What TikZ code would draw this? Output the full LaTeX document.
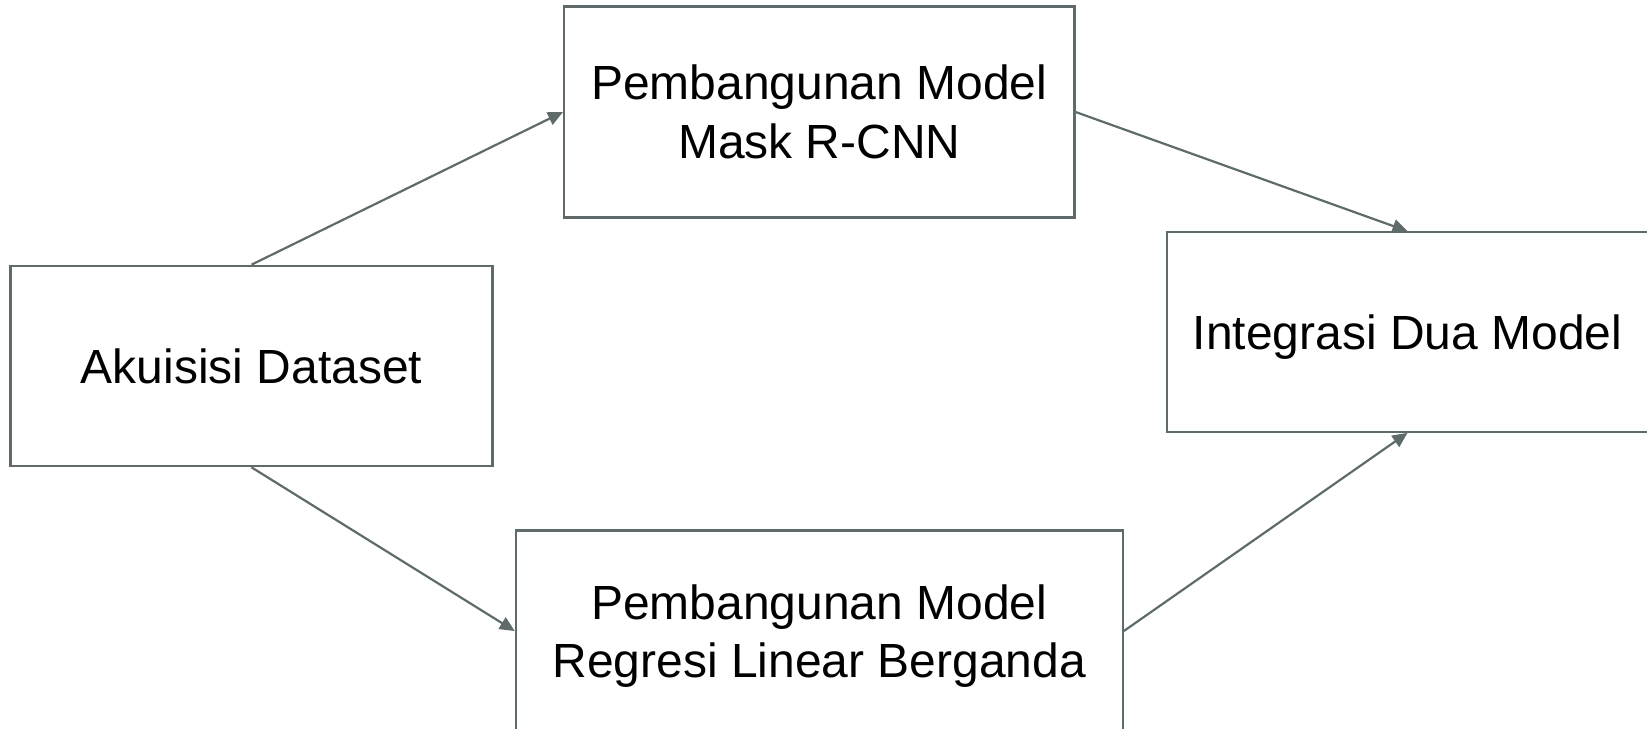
\documentclass[tikz,border=0pt]{standalone}
\usepackage{fontspec}
\setmainfont{Liberation Sans}
\usetikzlibrary{arrows.meta}
\definecolor{edgegray}{RGB}{95,107,107}
% a line whose descenders do not count when the box is centred
\newcommand{\nodepth}[1]{\raisebox{0pt}[\height][0pt]{#1}}
\tikzset{
  stagebox/.style={draw=edgegray, line width=1.25pt, fill=white, align=center,
    inner sep=0pt, font=\fontsize{27.3pt}{33.2pt}\selectfont},
  flow/.style={draw=edgegray, line width=1.25pt,
    -{Triangle[length=0.3cm,width=0.27cm]}}
}
\begin{document}
\begin{tikzpicture}[x=0.02cm, y=-0.02cm]
  \useasboundingbox (0,0) rectangle (1647,728);
  \clip (0,0) rectangle (1647,728);

  \node[stagebox, minimum width=9.64cm, minimum height=4.01cm] (akuisisi)
    at (251.5,366) {Akuisisi Dataset};
  \node[stagebox, minimum width=10.21cm, minimum height=4.22cm] (maskrcnn)
    at (819.3,112) {Pembangunan Model\\Mask R-CNN};
  \node[stagebox, minimum width=9.62cm, minimum height=3.99cm] (integrasi)
    at (1407.5,332) {\nodepth{Integrasi Dua Model}};
  \node[stagebox, minimum width=12.14cm, minimum height=4.02cm] (regresi)
    at (819.3,631) {Pembangunan Model\\\nodepth{Regresi Linear Berganda}};

  \draw[flow] (akuisisi.north) -- (maskrcnn.west);
  \draw[flow] (maskrcnn.east) -- (integrasi.north);
  \draw[flow] (akuisisi.south) -- (regresi.west);
  \draw[flow] (regresi.east) -- (integrasi.south);
\end{tikzpicture}
\end{document}
